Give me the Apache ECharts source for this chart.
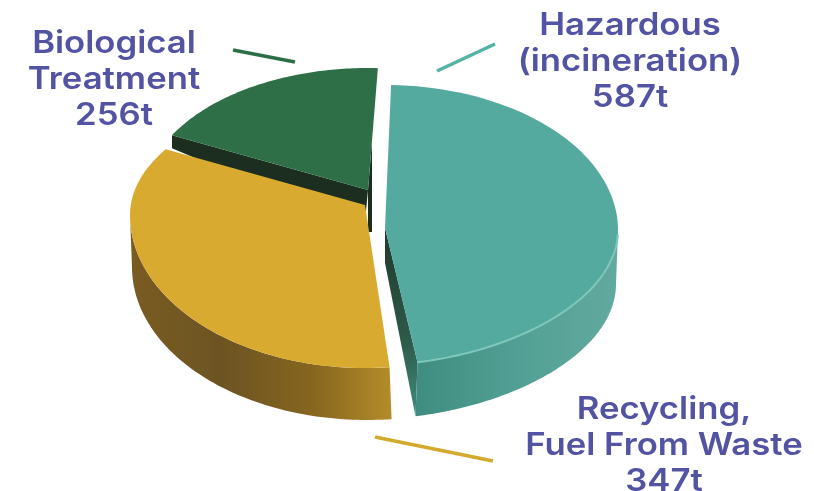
<!DOCTYPE html>
<html><head><meta charset="utf-8">
<script src="https://cdn.jsdelivr.net/npm/echarts@6/dist/echarts.min.js"></script>
<style>html,body{margin:0;background:#fff}#c{width:814px;height:491px}</style></head>
<body><div id="c"></div>
<script>
const categories = ['Biological\nTreatment', 'Recycling,\nFuel From Waste', 'Hazardous\n(incineration)'];
const values = [256, 347, 587];
const units = 't';

const total = values.reduce((a, b) => a + b, 0);
// Hand-drawn 3D look: per-slice projection of the value share onto the tilted disc.
const layout = [
  {apex:[368,190], c:[368,200], rx:225, ryT:132, ryB:132, skew:0, start:299.4, fore:0.815, thick:46, off:2,
   top:'#2f6f47', wall:null,
   label:[114,80], line:[233,50,295,62], lineColor:'#2b6f45'},
  {apex:[365,205], c:[365,215], rx:235, ryT:124, ryB:153, skew:0, start:174, fore:1.219, thick:52, off:2,
   top:'#d8aa30', wall:[[0,'#7a5c22'],[0.35,'#6c5422'],[0.7,'#86661f'],[1,'#b48c2a']],
   label:[664,446], line:[375,437,493,461], lineColor:'#d3aa2e'},
  {apex:[385,228], c:[385,230], rx:233, ryT:145, ryB:135, skew:5, start:1.5, fore:0.96, thick:54, off:-2,
   top:'#55aaa0', wall:[[0,'#3f8d80'],[0.5,'#52a095'],[1,'#62a99f']], rim:'#7fc7bb',
   label:[630,62], line:[437,71,495,44], lineColor:'#52b3a6'}
];
const textColor = '#5353a3';
const textWiden = 1.12;

function pt(s, t) {
  const r = t * Math.PI / 180, co = Math.cos(r);
  let y = s.c[1] - co * (co > 0 ? s.ryT : s.ryB);
  if (t > 90 && t < 180) y -= s.skew * Math.sin(2 * (r - Math.PI / 2));
  return [s.c[0] + s.rx * Math.sin(r), y];
}
function arc(s, t0, t1) {
  const out = [], n = 80;
  for (let i = 0; i <= n; i++) out.push(pt(s, t0 + (t1 - t0) * i / n));
  return out;
}
function poly(points, fill, z2) {
  return {type:'polygon', shape:{points}, style:{fill}, z2};
}
function grad(stops) {
  return {type:'linear', x:0, y:0, x2:1, y2:0, colorStops:stops.map(([offset,color]) => ({offset,color}))};
}

function renderItem(params, api) {
  const i = params.dataIndex, s = layout[i];
  const sweep = api.value(0) / total * 360 * s.fore;
  const t0 = s.start, t1 = s.start + sweep;
  const kids = [];
  const shift = p => [p[0] + s.off, p[1] + s.thick];
  const A = pt(s, t0), B = pt(s, t1);
  const ax = s.apex[0], ay = s.apex[1];

  if (i === 0) { // cut faces of the far slice
    kids.push(poly([s.apex, A, [A[0], A[1]+13], [ax+2, ay+42], [ax-4, ay+42]], '#1c2e1f', 1));
    const up = [ax + (B[0]-ax)*0.4, ay + (B[1]-ay)*0.4];
    kids.push(poly([s.apex, up, [ax+4, ay+10], [ax+4, ay+42], [ax, ay+42]], '#1c2e1f', 1));
  }
  if (i === 2) { // inner cut face of the large slice
    kids.push(poly([s.apex, B, shift(B), [ax, ay+35]],
      {type:'linear',x:0,y:0,x2:1,y2:1,colorStops:[{offset:0,color:'#1f3a2c'},{offset:0.6,color:'#2d5a49'},{offset:1,color:'#3f8d80'}]}, 1));
  }
  if (s.wall) {
    const a0 = Math.max(t0, 90), a1 = Math.min(t1, 270);
    const upper = arc(s, a0, a1);
    const lower = upper.map(shift).reverse();
    kids.push(poly(upper.concat(lower), grad(s.wall), 2));
    if (s.rim) {
      kids.push({type:'polyline', shape:{points:arc(s, 92, t1)}, style:{fill:null, stroke:s.rim, lineWidth:2}, z2:4});
    }
  }
  kids.push(poly([s.apex].concat(arc(s, t0, t1)), s.top, 3));

  kids.push({type:'line', shape:{x1:s.line[0], y1:s.line[1], x2:s.line[2], y2:s.line[3]},
    style:{stroke:s.lineColor, lineWidth:3.5}, z2:5});
  kids.push({type:'text', z2:6, x:s.label[0], y:s.label[1], scaleX:textWiden, style:{
    text: categories[i] + '\n' + api.value(0) + units,
    x:0, y:0, align:'center', verticalAlign:'middle',
    font:'600 31px Inter', lineHeight:36, fill:textColor}});
  return {type:'group', children:kids};
}

const chart = echarts.init(document.getElementById('c'), null, {renderer:'canvas'});
chart.setOption({
  animation:false,
  backgroundColor:'#fff',
  series:[{
    type:'custom', coordinateSystem:'none', renderItem,
    dimensions:['value'],
    encode:{value:0},
    data: values.map((v,i) => ({name:categories[i], value:[v]}))
  }]
});
</script></body></html>
